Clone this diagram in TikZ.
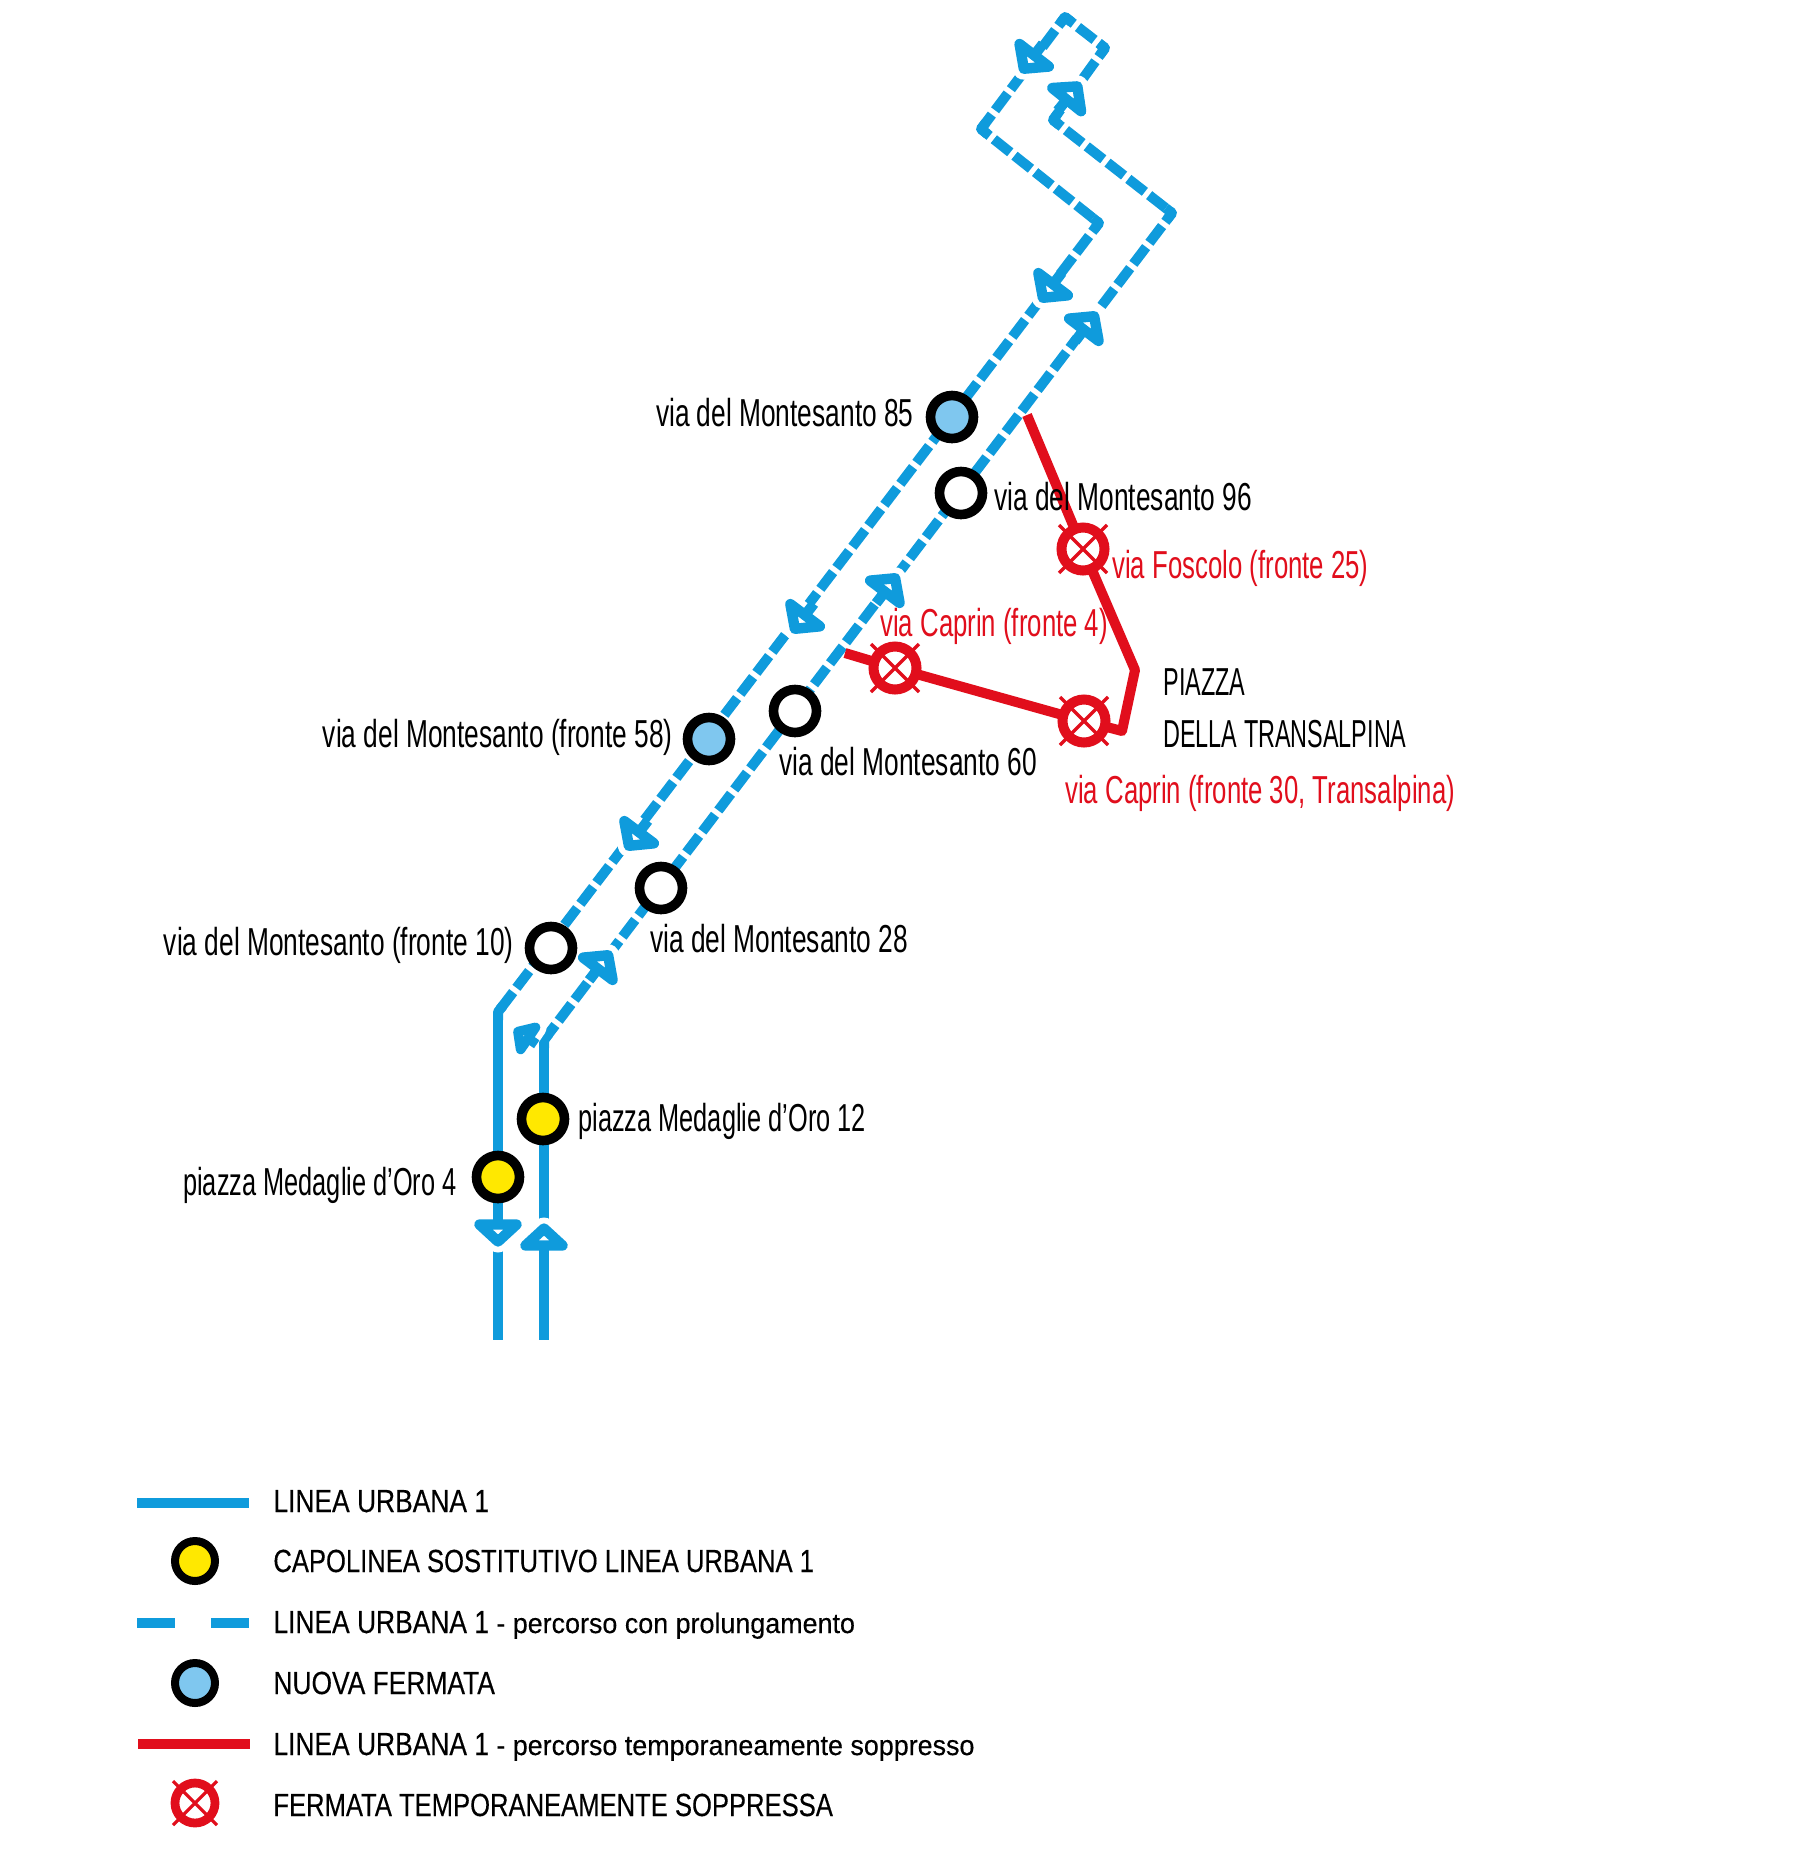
\documentclass[tikz,border=0pt]{standalone}
\usepackage{fontspec}
\usetikzlibrary{calc}
\setmainfont{Liberation Sans}
\newfontfamily\narrowf[FakeStretch=0.675]{Liberation Sans}
\newfontfamily\narrowp[FakeStretch=0.65]{Liberation Sans}
\newfontfamily\narrowr[FakeStretch=0.66]{Liberation Sans}
\newfontfamily\narrowc[FakeStretch=0.60]{Liberation Sans}
\newfontfamily\legf[FakeStretch=0.825,FakeBold=0.25]{Liberation Sans}
\newfontfamily\legg[FakeStretch=0.80,FakeBold=0.25]{Liberation Sans}
\newfontfamily\legs[FakeStretch=0.96,FakeBold=0.35]{Liberation Sans}
\definecolor{lblue}{HTML}{0F9BDC}
\definecolor{lred}{HTML}{E10E1C}
\definecolor{lyellow}{HTML}{FFE800}
\definecolor{lsky}{HTML}{7FC7EF}
\tikzset{
  solidb/.style={draw=lblue,line width=4.7pt},
  dashb/.style={draw=lblue,line width=5pt,dash pattern=on 10.5pt off 2.7pt,dash phase=5pt},
  redl/.style={draw=lred,line width=5pt,line join=round},
  stopbase/.style={circle,draw=black,line width=4.8pt,minimum size=21.5pt,inner sep=0pt},
  stopw/.style={stopbase,fill=white},
  stopy/.style={stopbase,fill=lyellow},
  stopn/.style={stopbase,fill=lsky},
  legstop/.style={circle,draw=black,line width=4pt,minimum size=20pt,inner sep=0pt},
  lab/.style={inner sep=0pt,text=black,font=\narrowf\fontsize{19.5}{22}\selectfont},
  labp/.style={lab,font=\narrowp\fontsize{19.5}{22}\selectfont},
  labc/.style={lab,font=\narrowc\fontsize{19.5}{22}\selectfont},
  labr/.style={lab,text=lred,font=\narrowr\fontsize{19.5}{22}\selectfont},
  legt/.style={inner sep=0pt,anchor=base west,text=black,font=\legf\fontsize{16}{18}\selectfont},
  legu/.style={legt,font=\legg\fontsize{16}{18}\selectfont},
  xstop/.pic={
    \draw[lred,line width=1.7pt] (-24,-24) -- (24,24) (-24,24) -- (24,-24);
    \draw[lred,fill=none,line width=5pt] (0,0) circle (21.5);
  },
  xstopleg/.pic={
    \draw[lred,line width=1.6pt] (-22,-22) -- (22,22) (-22,22) -- (22,-22);
    \draw[lred,fill=none,line width=4.4pt] (0,0) circle (20);
  }
}
% arrowhead: coordinate, angle, scale, stroke width
\newcommand\arw[4]{%
  \begin{scope}[shift={(#1)},rotate=#2,scale=#3]
    \draw[white,fill=white,line width=11pt,line join=round] (-18.5,8.5) -- (0,-8.5) -- (18.5,8.5) -- cycle;
    \draw[lblue,line width=#4] (0,8.5) -- (0,23);
    \draw[lblue,fill=white,line width=#4,line join=round] (-18.5,8.5) -- (0,-8.5) -- (18.5,8.5) -- cycle;
  \end{scope}}
\newcommand\cor[3]{\draw[solidb,line width=5pt,line join=round] ($(#2)!4pt!(#1)$) -- (#2) -- ($(#2)!4pt!(#3)$);}
\begin{document}
\begin{tikzpicture}[x=0.5pt,y=-0.5pt]
\useasboundingbox[fill=white] (0,0) rectangle (1819,1864);
% route coordinates
\coordinate (apex) at (1065,17);
\coordinate (rloop) at (1105,48);
\coordinate (iloop) at (1053,120);
\coordinate (lloop) at (981,129);
\coordinate (rbend) at (1172,213);
\coordinate (lbend) at (1099,223);
\coordinate (lfoot) at (498,1012);
\coordinate (rfoot) at (544,1040);
\coordinate (lend) at (498,1340);
\coordinate (rend) at (544,1340);
\coordinate (rstart) at (1027,415);
\coordinate (rfos) at (1083,549);
\coordinate (rc1) at (1135,670);
\coordinate (rc2) at (1122,731);
\coordinate (rtr) at (1084,721);
\coordinate (rcap) at (895,668);
\coordinate (rstop) at (845,653);
% blue lines
\draw[solidb] (lfoot) -- (lend);
\draw[solidb] (rfoot) -- (rend);
\draw[dashb] (apex) -- (rloop);
\draw[dashb] (rloop) -- (iloop);
\draw[dashb] (iloop) -- (rbend);
\draw[dashb] (rbend) -- (rfoot);
\draw[dashb] (apex) -- (lloop);
\draw[dashb] (lloop) -- (lbend);
\draw[dashb] (lbend) -- (lfoot);
\cor{lloop}{apex}{rloop}
\cor{apex}{rloop}{iloop}
\cor{rloop}{iloop}{rbend}
\cor{iloop}{rbend}{rfoot}
\cor{apex}{lloop}{lbend}
\cor{lloop}{lbend}{lfoot}
\cor{lbend}{lfoot}{lend}
\cor{rbend}{rfoot}{rend}
% arrowheads
\arw{1029,62}{142.4}{1}{5.2pt}
\arw{1072,93}{-38.9}{1}{5.2pt}
\arw{1048,291}{143}{1}{5.2pt}
\arw{1089,323}{-37.2}{1}{5.2pt}
\arw{800,622}{143}{1}{5.2pt}
\arw{890,585}{-37.2}{1}{5.2pt}
\arw{634,839}{143}{1}{5.2pt}
\arw{603,962}{-37.2}{1}{5.2pt}
\arw{523,1035}{56}{0.72}{4.8pt}
\arw{498,1233}{180}{1}{5.2pt}
\arw{544,1237}{0}{1}{5.2pt}
% red line
\draw[redl] (rstart) -- (rfos) -- (rc1) -- (rc2) -- (rtr) -- (rcap) -- (rstop);
% stops
\node[stopn] (s85) at (952,417) {};
\node[stopw] (s96) at (961,493) {};
\node[stopn] (s58) at (709,739) {};
\node[stopw] (s60) at (795,711) {};
\node[stopw] (s28) at (661,888) {};
\node[stopw] (s10) at (551,948) {};
\node[stopy] (sy1) at (543,1119) {};
\node[stopy] (sy2) at (498,1177) {};
\fill[white] (rfos) circle (17);
\fill[white] (rcap) circle (17);
\fill[white] (rtr) circle (17);
\pic at (rfos) {xstop};
\pic at (rcap) {xstop};
\pic at (rtr) {xstop};
% labels
\node[lab,anchor=base east] (t85) at (914,426) {via del Montesanto 85};
\node[lab,anchor=base west] (t96) at (994,510) {via del Montesanto 96};
\node[labr,anchor=base west] (tfos) at (1112,578) {via Foscolo (fronte 25)};
\node[labr,anchor=base west] (tcap) at (880,636) {via Caprin (fronte 4)};
\node[labc,anchor=base west] (tpia) at (1163,695) {PIAZZA};
\node[labc,anchor=base west] (tdel) at (1163,747) {DELLA TRANSALPINA};
\node[labr,anchor=base west] (ttr) at (1065,803) {via Caprin (fronte 30, Transalpina)};
\node[lab,anchor=base west] (t60) at (779,775) {via del Montesanto 60};
\node[lab,anchor=base east] (t58) at (673,747) {via del Montesanto (fronte 58)};
\node[lab,anchor=base west] (t28) at (650,952) {via del Montesanto 28};
\node[lab,anchor=base east] (t10) at (514,955) {via del Montesanto (fronte 10)};
\node[labp,anchor=base west] (ty1) at (578,1131) {piazza Medaglie d’Oro 12};
\node[labp,anchor=base east] (ty2) at (457,1195) {piazza Medaglie d’Oro 4};
% legend
\coordinate (la) at (137,1503); \coordinate (lb) at (249,1503);
\coordinate (da) at (137,1623); \coordinate (db) at (249,1623);
\coordinate (ra) at (138,1744); \coordinate (rb) at (250,1744);
\coordinate (lx) at (195,1803);
\draw[solidb] (la) -- (lb);
\draw[solidb,dash pattern=on 19pt off 18pt] (da) -- (db);
\draw[redl] (ra) -- (rb);
\node[legstop,fill=lyellow] (ly) at (195,1561) {};
\node[legstop,fill=lsky] (ln) at (195,1683) {};
\fill[white] (lx) circle (16);
\pic at (lx) {xstopleg};
\node[legt] (l1) at (273,1512) {LINEA URBANA 1};
\node[legu] (l2) at (273,1572) {CAPOLINEA SOSTITUTIVO LINEA URBANA 1};
\node[legt] (l3) at (273,1633) {LINEA URBANA 1 {\legs\fontsize{14}{16}\selectfont - percorso con prolungamento}};
\node[legt] (l4) at (273,1694) {NUOVA FERMATA};
\node[legt] (l5) at (273,1755) {LINEA URBANA 1 {\legs\fontsize{14}{16}\selectfont - percorso temporaneamente soppresso}};
\node[legu] (l6) at (273,1816) {FERMATA TEMPORANEAMENTE SOPPRESSA};
\end{tikzpicture}
\end{document}
